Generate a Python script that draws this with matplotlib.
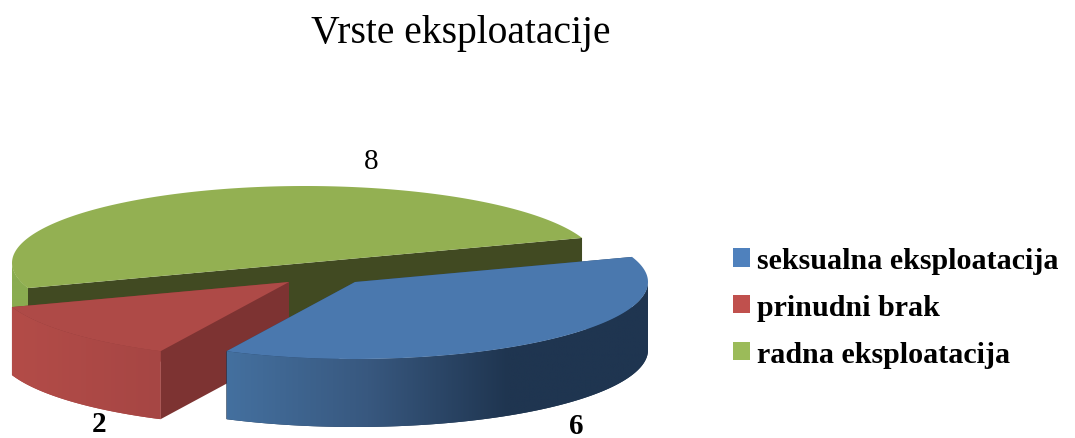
import numpy as np
import matplotlib
matplotlib.use("Agg")
import matplotlib.pyplot as plt
from matplotlib.colors import LinearSegmentedColormap
from matplotlib.patches import Patch, Polygon

categories = ["seksualna eksploatacija", "prinudni brak", "radna eksploatacija"]
values = [6, 2, 8]
legend_colors = ["#4F81BD", "#C0504D", "#9BBB59"]

# pie geometry, in pixels of the picture
rx, ry = 293, 77
depth = 68
start_angle = 19
centers = [(355, 283), (289, 283), (305, 264)]
top_colors = ["#4A78AE", "#AE4A47", "#93B052"]
side_grads = [["#44709F", "#38587F", "#1F3550", "#1F3550"],
              ["#B34C48", "#A64644"],
              ["#8AAC50", "#8AAC50"]]
face_colors = ["#2A4666", "#7D3332", "#414A22"]
label_pos = [(576, 427), (99, 425), (371, 162)]

plt.rcParams['font.family'] = ['Liberation Serif', 'DejaVu Serif']

fig = plt.figure(figsize=(10.75, 4.39), dpi=100)
ax = fig.add_axes([0, 0, 1, 1])
ax.set_xlim(0, 1075)
ax.set_ylim(439, 0)
ax.axis("off")

order = 0


def z():
    global order
    order += 1
    return 1 + order * 0.01


def arc(c, t0, t1, dy=0):
    t = np.radians(np.linspace(t0, t1, 200))
    return np.column_stack([c[0] + rx * np.cos(t), c[1] - ry * np.sin(t) + dy])


def draw_slice(c, t0, t1, top, grad, face):
    # t0 > t1, slices run clockwise
    pt0 = arc(c, t0, t0)[0]
    pt1 = arc(c, t1, t1)[0]

    # flat cut faces
    for p in (pt0, pt1):
        quad = [c, p, (p[0], p[1] + depth), (c[0], c[1] + depth)]
        ax.add_patch(Polygon(quad, color=face, lw=0, zorder=z()))

    # curved outer wall, only the part facing us (-180..0), gradient left to right
    w0, w1 = min(t0, 0), max(t1, -180)
    a = arc(c, w0, w1)
    b = arc(c, w1, w0, depth)
    # flat underlay stops a pale seam showing along the clipped gradient
    ax.add_patch(Polygon(np.vstack([a, b]), closed=True, fc=grad[-1], ec="none", zorder=z()))
    wall = Polygon(np.vstack([a, b]), closed=True, fc="none", ec="none", transform=ax.transData)
    ax.add_patch(wall)
    cmap = LinearSegmentedColormap.from_list("wall", grad)
    x0, x1 = a[:, 0].min(), a[:, 0].max()
    y0, y1 = a[:, 1].min(), a[:, 1].max() + depth
    im = ax.imshow(np.linspace(0, 1, 256)[None, :], cmap=cmap, extent=[x0, x1, y1, y0],
                   aspect="auto", zorder=z())
    im.set_clip_path(wall)

    # top
    ax.add_patch(Polygon(np.vstack([[c], arc(c, t0, t1)]), color=top, lw=0, zorder=z()))


angles = start_angle - np.cumsum([0] + values) / np.sum(values) * 360

# back slice first so the exploded ones sit in front of it
for i in [2, 1, 0]:
    draw_slice(centers[i], angles[i], angles[i + 1], top_colors[i], side_grads[i], face_colors[i])

ax.set_xlim(0, 1075)
ax.set_ylim(439, 0)

for v, (x, y), w in zip(values, label_pos, ["bold", "bold", "normal"]):
    ax.text(x, y, str(v), ha="center", va="center", fontsize=21, fontweight=w, color="black", zorder=5)

ax.text(461, 33, "Vrste eksploatacije", ha="center", va="center", fontsize=28.5, color="black")

handles = [Patch(facecolor=c, edgecolor="none") for c in legend_colors]
ax.legend(handles, categories, loc="upper left", bbox_to_anchor=(724, 239), bbox_transform=ax.transData,
          frameon=False, handlelength=0.57, handleheight=0.57, handletextpad=0.22, labelspacing=0.66,
          borderpad=0, borderaxespad=0.3, prop={"size": 21.6, "weight": "bold"})

fig.savefig("out.png", dpi=100)
